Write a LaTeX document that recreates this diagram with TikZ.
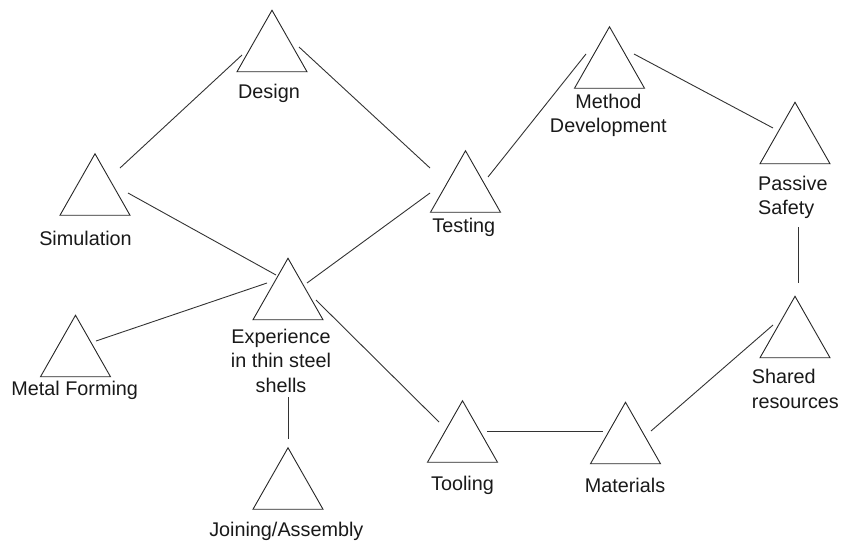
\documentclass[tikz,border=0pt]{standalone}
\usepackage{fontspec}
\setmainfont{Liberation Sans}
\begin{document}
\begin{tikzpicture}[x=1pt,y=-1pt,
  tri/.style={minimum width=70pt,minimum height=61.5pt,inner sep=0pt,outer sep=0pt},
  lbl/.style={font=\fontsize{19.8}{24.5}\selectfont, inner sep=0pt, anchor=base, align=center, text=black!90},
  link/.style={line width=0.9pt, draw=black!80},
  triline/.style={line width=0.9pt, draw=black!85, line join=miter}]
\useasboundingbox (0,0) rectangle (842,541);

% triangle nodes
\node[tri] (des)  at (272,41)    {};
\node[tri] (sim)  at (95,184.5)  {};
\node[tri] (exp)  at (288,289)   {};
\node[tri] (mf)   at (75.5,346)  {};
\node[tri] (join) at (288,478.5) {};
\node[tri] (test) at (465.5,181.5) {};
\node[tri] (meth) at (609.5,57.5) {};
\node[tri] (pass) at (795,133)   {};
\node[tri] (shar) at (795,327)   {};
\node[tri] (tool) at (462.5,431.5) {};
\node[tri] (mat)  at (625.5,433) {};

\foreach \n in {des,sim,exp,mf,join,test,meth,pass,shar,tool,mat}
  \draw[triline] (\n.north) -- (\n.south east) -- (\n.south west) -- cycle;

% labels (multi-line labels are anchored at the baseline of their last line)
\node[lbl] (desL)  at (269,98.7)   {Design};
\node[lbl] (simL)  at (85.5,245.3) {Simulation};
\node[lbl] (expL)  at (281,392)    {Experience\\in thin steel\\shells};
\node[lbl] (mfL)   at (74.7,395)   {Metal Forming};
\node[lbl] (joinL) at (286.3,536.5) {Joining/Assembly};
\node[lbl] (testL) at (463.8,232.3) {Testing};
\node[lbl] (methL) at (608.3,132.5) {Method\\Development};
\node[lbl, align=left, anchor=base west] (passL) at (758,214.8) {Passive\\Safety};
\node[lbl, align=left, anchor=base west] (sharL) at (751.7,408.4) {Shared\\resources};
\node[lbl] (toolL) at (462.5,490)  {Tooling};
\node[lbl] (matL)  at (625,492.3)  {Materials};

% connectors
\draw[link] ([shift={(25,-16.5)}]sim.center) -- ([shift={(-30,14)}]des.center);
\draw[link] ([shift={(27,6)}]des.center) -- ([shift={(-35.5,-13.5)}]test.center);
\draw[link] ([shift={(33,8.5)}]sim.center) -- ([shift={(-12,-14)}]exp.center);
\draw[link] ([shift={(19,-6)}]exp.center) -- ([shift={(-35.5,11.5)}]test.center);
\draw[link] ([shift={(22.5,-4.5)}]test.center) -- ([shift={(-23.5,-3.5)}]meth.center);
\draw[link] ([shift={(24.5,-3.5)}]meth.center) -- ([shift={(-22,-5)}]pass.center);
\draw[link] ([shift={(3,94)}]pass.center) -- ([shift={(3,-44)}]shar.center);
\draw[link] ([shift={(20.5,-5)}]mf.center) -- ([shift={(-21,-6)}]exp.center);
\draw[link] ([shift={(0,108)}]exp.center) -- ([shift={(0,-39.5)}]join.center);
\draw[link] ([shift={(28,11)}]exp.center) -- ([shift={(-23.5,-9.5)}]tool.center);
\draw[link] ([shift={(24.5,-0.5)}]tool.center) -- ([shift={(-22.5,-2)}]mat.center);
\draw[link] ([shift={(25.5,-2)}]mat.center) -- ([shift={(-22,-2)}]shar.center);
\end{tikzpicture}
\end{document}
